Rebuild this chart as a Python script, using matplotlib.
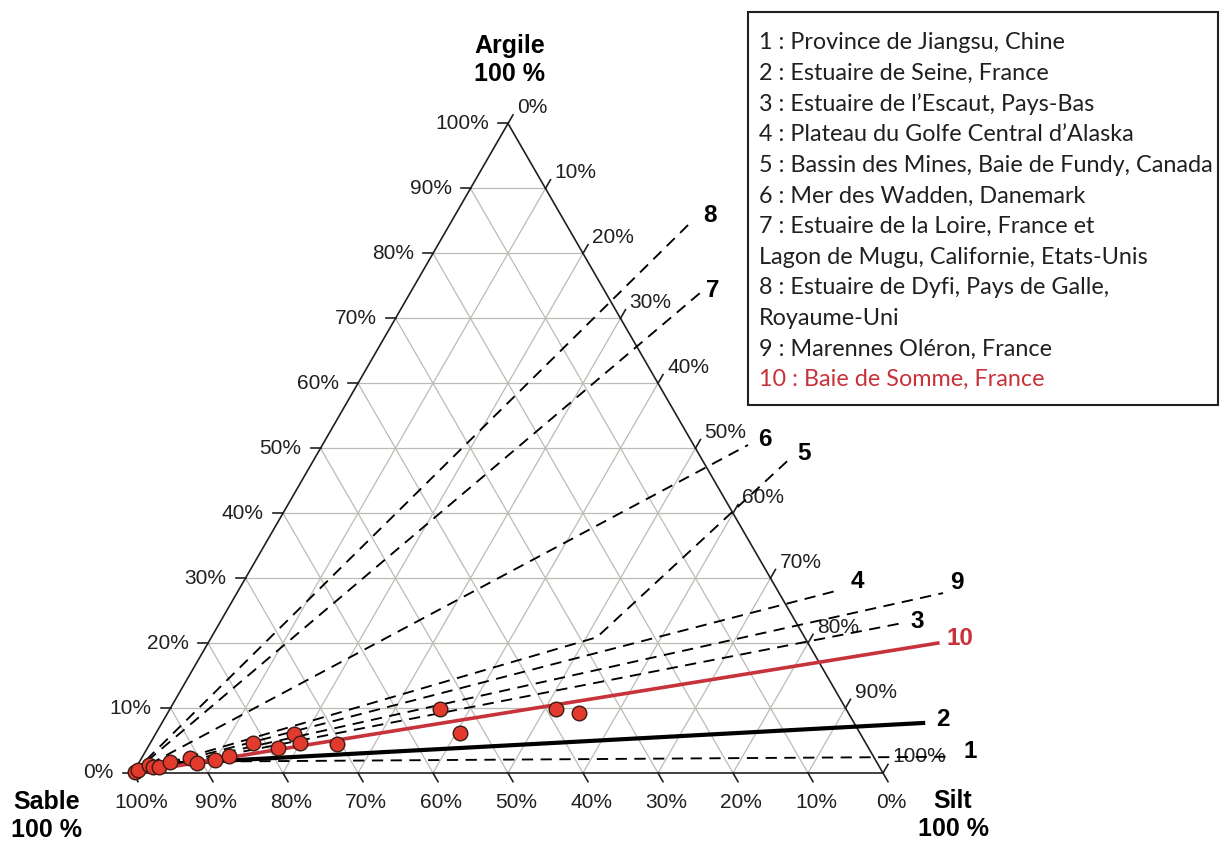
import numpy as np
import matplotlib.pyplot as plt
from matplotlib.patches import Rectangle

# --- data (ternary values in %, sable = 100 - silt - argile) ---
ticks = [0, 10, 20, 30, 40, 50, 60, 70, 80, 90, 100]

# trend lines, vertices given as silt % / argile %
trend_names = ['1', '2', '3', '4', '5', '6', '7', '8', '9', '10']
trend_silt = [[1.0, 107.3], [0.5, 101.5], [0, 91.1], [0, 80.2], [0, 51.4, 63.5],
              [0, 56.75], [0, 38.65], [0, 32.1], [0, 94.15], [0, 97.3]]
trend_argile = [[1.7, 2.5], [1.2, 7.7], [0, 23.1], [0, 28.2], [0, 20.9, 48.65],
                [0, 50.5], [0, 73.9], [0, 85.1], [0, 27.7], [0, 20.0]]

# Baie de Somme samples
somme_silt = [0.2, 0.44, 1.5, 2.2, 3.0, 4.1, 6.45, 7.8, 9.9, 11.5, 13.7, 17.4,
              18.5, 19.95, 25.0, 36.0, 40.5, 51.5, 54.85]
somme_argile = [0.2, 0.46, 1.2, 0.92, 1.0, 1.7, 2.3, 1.5, 2.0, 2.6, 4.62, 3.85,
                6.0, 4.62, 4.47, 9.85, 6.16, 9.85, 9.24]

legend_lines = [
    '1 : Province de Jiangsu, Chine',
    '2 : Estuaire de Seine, France',
    '3 : Estuaire de l\u2019Escaut, Pays-Bas',
    '4 : Plateau du Golfe Central d\u2019Alaska',
    '5 : Bassin des Mines, Baie de Fundy, Canada',
    '6 : Mer des Wadden, Danemark',
    '7 : Estuaire de la Loire, France et',
    'Lagon de Mugu, Californie, Etats-Unis',
    '8 : Estuaire de Dyfi, Pays de Galle,',
    'Royaume-Uni',
    '9 : Marennes Ol\u00e9ron, France',
    '10 : Baie de Somme, France',
]

# --- styles ---
RED = '#c8323a'
DARK = '#231f20'
GRID = '#bfbab5'
trend_style = {'2': dict(color='black', lw=3.0, ls='-'),
               '10': dict(color=RED, lw=2.6, ls='-')}
# label offsets from line end, in pixels
label_off = {'1': (16, 5), '2': (13, 3), '3': (8, 1), '4': (10, 8), '5': (6, 4),
             '6': (10, 5), '7': (6, 3), '8': (10, 5), '9': (7, 11), '10': (9, 5)}

H = np.sqrt(3) / 2
PX = 1 / 750  # one pixel in data units


def tern(silt, argile):
    silt = np.asarray(silt, float) / 100
    argile = np.asarray(argile, float) / 100
    return silt + argile / 2, argile * H


def px(x, y):
    return (x - 133) * PX, (773 - y) * PX


fig = plt.figure(figsize=(12.21, 8.41), dpi=100)
ax = fig.add_axes([0, 0, 1, 1])
ax.set_xlim(-133 * PX, (1221 - 133) * PX)
ax.set_ylim(-68 * PX, 773 * PX)
ax.axis('off')

font = 'Liberation Sans'

# grid
for v in ticks[1:-1]:
    gx, gy = tern([0, 100 - v], [v, v])  # constant argile
    ax.plot(gx, gy, color=GRID, lw=0.9, zorder=1)
    gx, gy = tern([v, v], [0, 100 - v])  # constant silt
    ax.plot(gx, gy, color=GRID, lw=0.9, zorder=1)
    gx, gy = tern([100 - v, 0], [0, 100 - v])  # constant sable
    ax.plot(gx, gy, color=GRID, lw=0.9, zorder=1)

# triangle
tx, ty = tern([0, 100, 0, 0], [0, 0, 100, 0])
ax.plot(tx, ty, color=DARK, lw=1.2, zorder=2, solid_joinstyle='miter')

# ticks and tick labels
for v in ticks:
    # argile, left edge
    x0, y0 = tern(0, v)
    ax.plot([x0, x0 - 10 * PX], [y0, y0], color=DARK, lw=1.2)
    ax.text(x0 - 19 * PX, y0, f'{v}%', ha='right', va='center', fontsize=15,
            family=font, color=DARK)
    # sable, bottom edge
    x0, y0 = tern(100 - v, 0)
    ax.plot([x0, x0 + 5 * PX], [y0, y0 - 8.66 * PX], color=DARK, lw=1.2)
    ax.text(x0 + 8 * PX, y0 - 30 * PX, f'{v}%', ha='center', va='center', fontsize=15,
            family=font, color=DARK)
    # silt, right edge
    x0, y0 = tern(v, 100 - v)
    ax.plot([x0, x0 + 5 * PX], [y0, y0 + 8.66 * PX], color=DARK, lw=1.2)
    ax.text(x0 + 9 * PX, y0 + 16 * PX, f'{v}%', ha='left', va='center', fontsize=15,
            family=font, color=DARK)

# corner titles
for label, (cx, cy) in [('Argile\n100 %', (510, 60)), ('Sable\n100 %', (47, 816)),
                        ('Silt\n100 %', (953, 815))]:
    ax.text(*px(cx, cy), label, ha='center', va='center', fontsize=18,
            fontweight='bold', family=font, color='black', linespacing=1.2)

# trend lines
for name, s, a in zip(trend_names, trend_silt, trend_argile):
    lx, ly = tern(s, a)
    st = trend_style.get(name, dict(color='black', lw=1.35, ls=(0, (6, 4))))
    ax.plot(lx, ly, zorder=3, **st)
    ax.annotate(name, (lx[-1], ly[-1]), xytext=label_off[name], textcoords='offset pixels',
                ha='left', va='center', fontsize=17.5, fontweight='bold', family=font,
                color=RED if name == '10' else 'black')

# Baie de Somme points
sx, sy = tern(somme_silt, somme_argile)
ax.plot(sx, sy, 'o', ms=10.5, mfc='#e23b2e', mec='#3a1a14', mew=1.0, zorder=4, ls='none')

# legend box
bx, by = px(748, 405)
ax.add_patch(Rectangle((bx, by), 470 * PX, 393 * PX, fill=False, ec=DARK, lw=1.5, zorder=5))
for i, line in enumerate(legend_lines):
    ax.text(*px(759, 43 + 30.6 * i), line, ha='left', va='center', fontsize=16.8,
            family='Lato', color=RED if line.startswith('10') else DARK)

fig.savefig('out.png', dpi=100)
